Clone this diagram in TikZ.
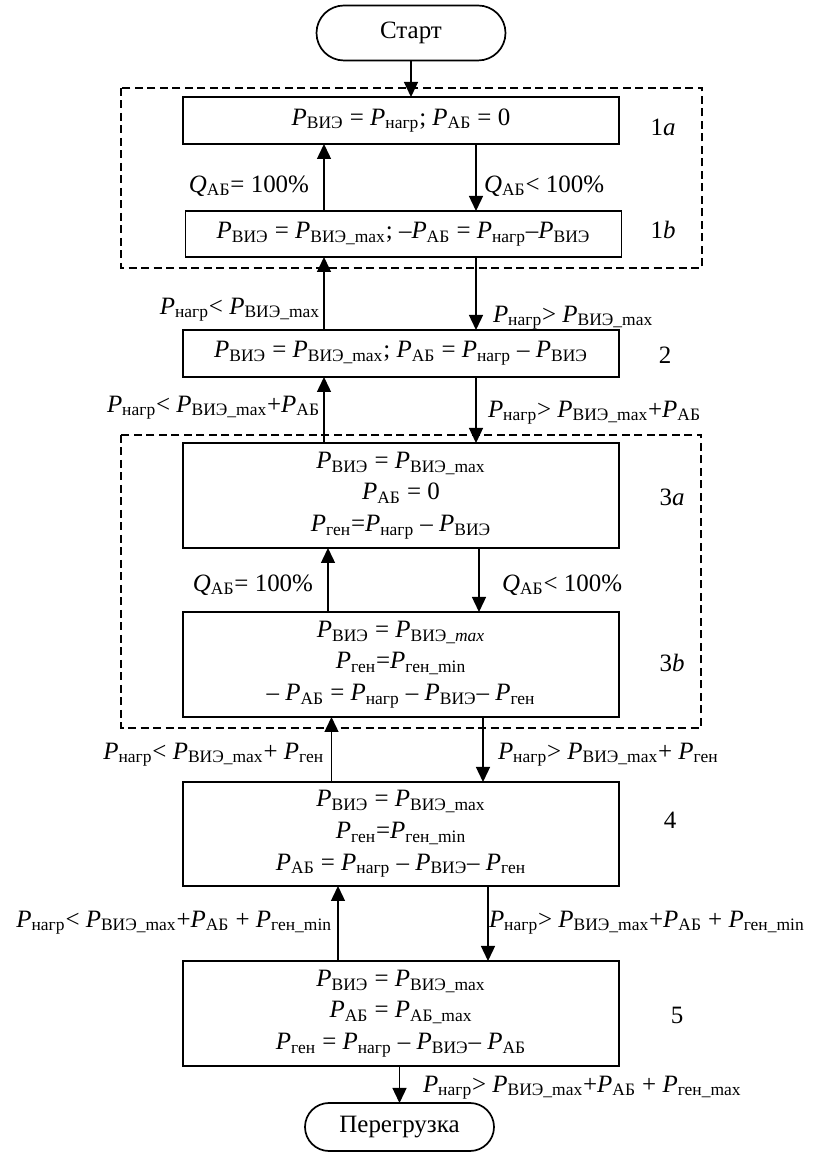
\documentclass[tikz,border=0pt]{standalone}
\usepackage{fontspec}
\setmainfont{Liberation Serif}
\usetikzlibrary{arrows.meta,shapes.misc}
\newcommand{\ebfont}{\fontsize{14.2pt}{18pt}\selectfont}
\newcommand{\ebP}[1]{\textit{P}\textsubscript{#1}}
\newcommand{\ebQ}[1]{\textit{Q}\textsubscript{#1}}

\begin{document}
\begin{tikzpicture}[x=1mm,y=1mm,line join=miter,
  every node/.style={inner sep=0pt,outer sep=0pt,font=\ebfont},
  blk/.style={draw,line width=0.34mm,minimum width=87.2mm,align=center},
  term/.style={draw,rounded rectangle,line width=0.34mm,minimum width=37.8mm},
  arr/.style={line width=0.28mm,-{Triangle[length=3.0mm,width=2.8mm]}},
  grp/.style={line width=0.22mm,dash pattern=on 1.6mm off 0.9mm}]
  % 源画布 814×1152px，按 1px＝0.2mm 换算；y 轴向上（Y＝230.4－0.2·py）
  \path[use as bounding box] (0,0) rectangle (162.8,230.4);
  % ---- 虚线组框（1a/1b、3a/3b）----
  \draw[grp] (24.2,212.8) rectangle (140.4,176.8);  % px(121,88)–(702,268)
  \draw[grp] (24.2,143.4) rectangle (140.2,84.8);   % px(121,435)–(701,728)
  % ---- 起止框 ----
  \node[term,minimum height=11mm] (start) at (82.2,223.8) {Старт};      % px 中心(411,33)
  \node[term,minimum height=9.6mm] (over) at (79.9,5.0) {Перегрузка};  % px 中心(400,1127)
  % ---- 状态框 ----
  \node[blk,minimum height=9.4mm] (b1a) at (80.2,206.3)
    {\ebP{ВИЭ} = \ebP{нагр}; \ebP{АБ} = 0};
  \node[blk,minimum height=9.2mm] (b1b) at (80.7,183.6)
    {\ebP{ВИЭ} = \ebP{ВИЭ\_max}; –\ebP{АБ} = \ebP{нагр}–\ebP{ВИЭ}};
  \node[blk,minimum height=9.4mm] (b2) at (80.2,159.7)
    {\ebP{ВИЭ} = \ebP{ВИЭ\_max}; \ebP{АБ} = \ebP{нагр} – \ebP{ВИЭ}};
  \node[blk,minimum height=21mm] (b3a) at (80.2,131.3)
    {\ebP{ВИЭ} = \ebP{ВИЭ\_max}\\ \ebP{АБ} = 0\\ \ebP{ген}=\ebP{нагр} – \ebP{ВИЭ}};
  \node[blk,minimum height=21mm] (b3b) at (80.2,97.5)
    {\ebP{ВИЭ} = \ebP{ВИЭ\_\textit{max}}\\ \ebP{ген}=\ebP{ген\_min}\\ – \ebP{АБ} = \ebP{нагр} – \ebP{ВИЭ}– \ebP{ген}};
  \node[blk,minimum height=20.8mm] (b4) at (80.2,63.6)
    {\ebP{ВИЭ} = \ebP{ВИЭ\_max}\\ \ebP{ген}=\ebP{ген\_min}\\ \ebP{АБ} = \ebP{нагр} – \ebP{ВИЭ}– \ebP{ген}};
  \node[blk,minimum height=21mm] (b5) at (80.2,27.7)
    {\ebP{ВИЭ} = \ebP{ВИЭ\_max}\\ \ebP{АБ} = \ebP{АБ\_max}\\ \ebP{ген} = \ebP{нагр} – \ebP{ВИЭ}– \ebP{АБ}};
  % ---- 框右侧编号 ----
  \node (t1a) at (132.6,205.0) {1\textit{a}};
  \node (t1b) at (132.6,184.4) {1\textit{b}};
  \node (t2)  at (133.0,159.4) {2};
  \node (t3a) at (134.4,131.0) {3\textit{a}};
  \node (t3b) at (134.4,97.8)  {3\textit{b}};
  \node (t4)  at (134.0,66.4)  {4};
  \node (t5)  at (135.4,27.4)  {5};
  % ---- 箭头列（px x：上行 324/328/332/338，下行 476/479/483/488）----
  \coordinate (up1) at (64.8,0);
  \coordinate (dn1) at (95.2,0);
  \coordinate (up3) at (65.6,0);
  \coordinate (dn3) at (95.8,0);
  \coordinate (up4) at (66.3,0);
  \coordinate (dn4) at (96.6,0);
  \coordinate (up5) at (67.6,0);
  \coordinate (dn5) at (97.6,0);
  \draw[arr] (start.south) -- (start.south |- b1a.north);
  \draw[arr] (b1b.north -| up1) -- (b1a.south -| up1);
  \draw[arr] (b1a.south -| dn1) -- (b1b.north -| dn1);
  \draw[arr] (b2.north -| up1) -- (b1b.south -| up1);
  \draw[arr] (b1b.south -| dn1) -- (b2.north -| dn1);
  \draw[arr] (b3a.north -| up1) -- (b2.south -| up1);
  \draw[arr] (b2.south -| dn1) -- (b3a.north -| dn1);
  \draw[arr] (b3b.north -| up3) -- (b3a.south -| up3);
  \draw[arr] (b3a.south -| dn3) -- (b3b.north -| dn3);
  \draw[arr] (b4.north -| up4) -- (b3b.south -| up4);
  \draw[arr] (b3b.south -| dn4) -- (b4.north -| dn4);
  \draw[arr] (b5.north -| up5) -- (b4.south -| up5);
  \draw[arr] (b4.south -| dn5) -- (b5.north -| dn5);
  \draw[arr] (b5.south -| over) -- (over.north);
  % ---- 条件标签 ----
  \node[anchor=mid east] (qa1) at (61.8,192.8) {\ebQ{АБ}= 100\%};
  \node[anchor=mid west] (qb1) at (96.8,192.8) {\ebQ{АБ}< 100\%};
  \node[anchor=mid east] (c2u) at (64.0,168.4) {\ebP{нагр}< \ebP{ВИЭ\_max}};
  \node[anchor=mid west] (c2d) at (98.6,166.8) {\ebP{нагр}> \ebP{ВИЭ\_max}};
  \node[anchor=mid east] (c3u) at (64.0,148.8) {\ebP{нагр}< \ebP{ВИЭ\_max}+\ebP{АБ}};
  \node[anchor=mid west] (c3d) at (97.6,147.8) {\ebP{нагр}> \ebP{ВИЭ\_max}+\ebP{АБ}};
  \node[anchor=mid east] (qa3) at (62.6,113.0) {\ebQ{АБ}= 100\%};
  \node[anchor=mid west] (qb3) at (100.4,113.0) {\ebQ{АБ}< 100\%};
  \node[anchor=mid east] (c4u) at (64.8,79.4) {\ebP{нагр}< \ebP{ВИЭ\_max}+ \ebP{ген}};
  \node[anchor=mid west] (c4d) at (99.6,79.4) {\ebP{нагр}> \ebP{ВИЭ\_max}+ \ebP{ген}};
  \node[anchor=mid east] (c5u) at (66.4,45.8) {\ebP{нагр}< \ebP{ВИЭ\_max}+\ebP{АБ} + \ebP{ген\_min}};
  \node[anchor=mid west] (c5d) at (97.8,45.8) {\ebP{нагр}> \ebP{ВИЭ\_max}+\ebP{АБ} + \ebP{ген\_min}};
  \node[anchor=mid west] (cov) at (84.6,12.8) {\ebP{нагр}> \ebP{ВИЭ\_max}+\ebP{АБ} + \ebP{ген\_max}};
\end{tikzpicture}
\end{document}
